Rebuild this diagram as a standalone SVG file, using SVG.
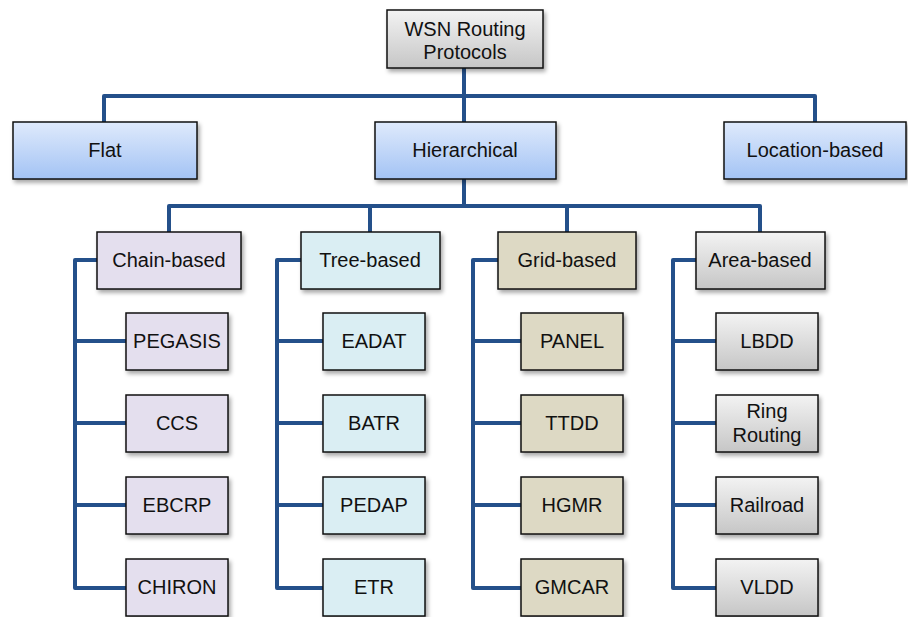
<svg xmlns="http://www.w3.org/2000/svg" width="908" height="617" viewBox="0 0 908 617">
<defs>
<linearGradient id="gGray" x1="0" y1="0" x2="0" y2="1"><stop offset="0" stop-color="#f3f3f3"/><stop offset="1" stop-color="#c6c6c6"/></linearGradient>
<linearGradient id="gBlue" x1="0" y1="0" x2="0" y2="1"><stop offset="0" stop-color="#dfeafc"/><stop offset="1" stop-color="#a3c3f4"/></linearGradient>
<filter id="sh" x="-10%" y="-10%" width="125%" height="130%"><feDropShadow dx="2" dy="3" stdDeviation="2" flood-color="#000" flood-opacity="0.35"/></filter>
<style>
.box{stroke:#111;stroke-width:1.5;filter:url(#sh)}
.gray{fill:url(#gGray)}
.blue{fill:url(#gBlue)}
.chain{fill:#e4dfee}
.tree{fill:#daeef3}
.grid{fill:#ddd9c4}
.t{font-family:"Liberation Sans",Arial,sans-serif;font-size:20px;fill:#111;text-anchor:middle}
.c{fill:none;stroke:#24508a;stroke-width:4;stroke-linejoin:round;stroke-linecap:round}
</style>
</defs>
<g id="connectors">
<path class="c" d="M464,68 V122 M104,122 V96 H815 V122"/>
<path class="c" d="M464,179 V206 M169,232 V206 H760 V232 M370,206 V232 M567,206 V232"/>
<path class="c" d="M97,260 H75 V588 H126 M75,341 H126 M75,423 H126 M75,505 H126"/>
<path class="c" d="M301,260 H277 V588 H323 M277,341 H323 M277,423 H323 M277,505 H323"/>
<path class="c" d="M498,260 H473 V588 H521 M473,341 H521 M473,423 H521 M473,505 H521"/>
<path class="c" d="M696,260 H673 V588 H716 M673,341 H716 M673,423 H716 M673,505 H716"/>
</g>
<g id="root"><rect class="box gray" x="387" y="10" width="156" height="58"/><text class="t" x="465" y="36">WSN Routing</text><text class="t" x="465" y="59">Protocols</text></g>
<g id="flat"><rect class="box blue" x="13" y="122" width="184" height="57"/><text class="t" x="105" y="157">Flat</text></g>
<g id="hierarchical"><rect class="box blue" x="375" y="122" width="181" height="57"/><text class="t" x="465" y="157">Hierarchical</text></g>
<g id="location"><rect class="box blue" x="724" y="122" width="182" height="57"/><text class="t" x="815" y="157">Location-based</text></g>
<g id="chain"><rect class="box chain" x="97" y="232" width="144" height="57"/><text class="t" x="169" y="267">Chain-based</text></g>
<g id="tree"><rect class="box tree" x="301" y="232" width="139" height="57"/><text class="t" x="370" y="267">Tree-based</text></g>
<g id="gridb"><rect class="box grid" x="498" y="232" width="138" height="57"/><text class="t" x="567" y="267">Grid-based</text></g>
<g id="area"><rect class="box gray" x="696" y="232" width="129" height="57"/><text class="t" x="760" y="267">Area-based</text></g>
<g id="pegasis"><rect class="box chain" x="126" y="313" width="102" height="57"/><text class="t" x="177" y="348">PEGASIS</text></g>
<g id="ccs"><rect class="box chain" x="126" y="395" width="102" height="57"/><text class="t" x="177" y="430">CCS</text></g>
<g id="ebcrp"><rect class="box chain" x="126" y="477" width="102" height="57"/><text class="t" x="177" y="512">EBCRP</text></g>
<g id="chiron"><rect class="box chain" x="126" y="559" width="102" height="57"/><text class="t" x="177" y="594">CHIRON</text></g>
<g id="eadat"><rect class="box tree" x="323" y="313" width="102" height="57"/><text class="t" x="374" y="348">EADAT</text></g>
<g id="batr"><rect class="box tree" x="323" y="395" width="102" height="57"/><text class="t" x="374" y="430">BATR</text></g>
<g id="pedap"><rect class="box tree" x="323" y="477" width="102" height="57"/><text class="t" x="374" y="512">PEDAP</text></g>
<g id="etr"><rect class="box tree" x="323" y="559" width="102" height="57"/><text class="t" x="374" y="594">ETR</text></g>
<g id="panel"><rect class="box grid" x="521" y="313" width="102" height="57"/><text class="t" x="572" y="348">PANEL</text></g>
<g id="ttdd"><rect class="box grid" x="521" y="395" width="102" height="57"/><text class="t" x="572" y="430">TTDD</text></g>
<g id="hgmr"><rect class="box grid" x="521" y="477" width="102" height="57"/><text class="t" x="572" y="512">HGMR</text></g>
<g id="gmcar"><rect class="box grid" x="521" y="559" width="102" height="57"/><text class="t" x="572" y="594">GMCAR</text></g>
<g id="lbdd"><rect class="box gray" x="716" y="313" width="102" height="57"/><text class="t" x="767" y="348">LBDD</text></g>
<g id="ring"><rect class="box gray" x="716" y="395" width="102" height="57"/><text class="t" x="767" y="418">Ring</text><text class="t" x="767" y="442">Routing</text></g>
<g id="railroad"><rect class="box gray" x="716" y="477" width="102" height="57"/><text class="t" x="767" y="512">Railroad</text></g>
<g id="vldd"><rect class="box gray" x="716" y="559" width="102" height="57"/><text class="t" x="767" y="594">VLDD</text></g>
</svg>
